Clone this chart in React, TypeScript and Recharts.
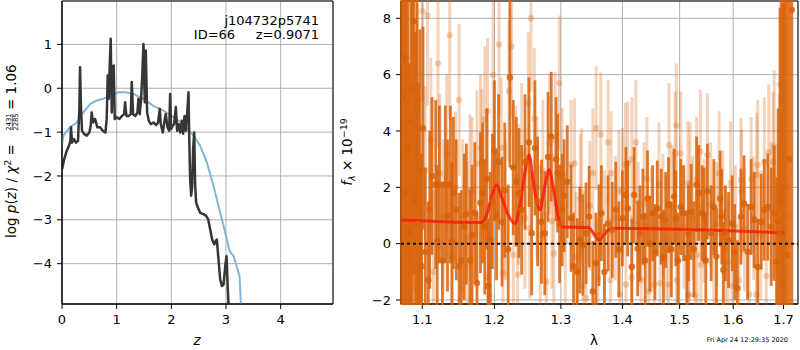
import {
  ComposedChart,
  Line,
  Scatter,
  ErrorBar,
  XAxis,
  YAxis,
  CartesianGrid,
  ReferenceLine,
  ReferenceArea,
} from "recharts";

// ---- left panel: log p(z) ----
const pzZ = [
  0.0, 0.04, 0.085, 0.128, 0.153, 0.165, 0.183, 0.22, 0.256, 0.293, 0.317, 0.33, 0.348, 0.366, 0.403,
  0.452, 0.501, 0.525, 0.543, 0.568, 0.604, 0.647, 0.696, 0.745, 0.794, 0.818, 0.836, 0.855, 0.873,
  0.891, 0.91, 0.928, 0.946, 0.965, 1.001, 1.05, 1.099, 1.136, 1.154, 1.178, 1.221, 1.258, 1.276, 1.3,
  1.343, 1.38, 1.398, 1.422, 1.447, 1.465, 1.49, 1.514, 1.532, 1.557, 1.587, 1.624, 1.673, 1.722, 1.758,
  1.789, 1.807, 1.844, 1.88, 1.899, 1.929, 1.96, 1.978, 1.996, 2.027, 2.051, 2.082, 2.106, 2.137, 2.161,
  2.192, 2.216, 2.241, 2.265, 2.289, 2.314, 2.326, 2.344, 2.363, 2.381, 2.399, 2.418, 2.436, 2.454,
  2.485, 2.527, 2.589, 2.637, 2.674, 2.711, 2.747, 2.784, 2.814, 2.833, 2.857, 2.894, 2.924, 2.955,
  2.985, 3.01, 3.028, 3.046,
];
const pzLog = [
  -1.85, -1.62, -1.43, -1.31, -1.2, -0.89, -1.24, -1.16, -1.24, -1.2, -0.47, 0.48, -0.47, -0.97, -1.04,
  -1.08, -1.01, -0.85, -0.55, -0.78, -0.7, -0.89, -0.89, -0.97, -1.01, -0.7, 0.29, -0.24, 0.52,
  1.13, -0.55, 0.37, 0.52, -0.7, -0.66, -0.7, -0.63, -0.59, -0.32, -0.63, -0.63, -0.59, 0.14, -0.59,
  -0.63, -0.55, -0.24, -0.59, -0.24, 0.21, 1.01, -0.32, 0.86, -0.55, -0.74, -0.82, -0.78, -0.84, -0.78,
  -0.47, -0.82, -1.01, -0.7, -0.59, -0.89, -0.97, -0.13, -0.93, -0.85, -0.82, -0.43, -0.97, -0.82, -1.01,
  -0.74, -1.04, -0.63, -0.97, -0.59, -0.09, -1.04, -2.07, -2.45, -2.23, -1.39, -1.01, -2.23, -2.61,
  -2.72, -2.84, -2.87, -2.91, -2.99, -3.22, -3.45, -3.56, -3.48, -3.45, -3.83, -4.36, -4.51, -4.47,
  -4.06, -3.83, -4.44, -4.93,
];
const priorZ = [
  0.0, 0.024, 0.067, 0.147, 0.269, 0.391, 0.513, 0.635, 0.757, 0.879, 1.032, 1.154, 1.306, 1.49, 1.673,
  1.856, 2.039, 2.222, 2.405, 2.527, 2.65, 2.772, 2.894, 2.985, 3.065, 3.138, 3.248, 3.272,
];
const priorLog = [
  -1.31, -1.08, -1.01, -0.89, -0.78, -0.55, -0.36, -0.28, -0.24, -0.17, -0.09, -0.09, -0.13, -0.24, -0.4,
  -0.51, -0.66, -0.82, -1.08, -1.31, -1.69, -2.23, -2.84, -3.29, -3.71, -3.83, -4.28, -4.93,
];
const zTicks = [0, 1, 2, 3, 4];
const pzTicks = [-4, -3, -2, -1, 0, 1];

// ---- right panel: spectrum (two exposures) ----
const darkLam = [
  1.073, 1.075, 1.077, 1.079, 1.081, 1.083, 1.085, 1.087, 1.089, 1.091, 1.093, 1.095, 1.097, 1.099,
  1.101, 1.104, 1.108, 1.11, 1.113, 1.118, 1.12, 1.123, 1.127, 1.131, 1.134, 1.138, 1.14, 1.142, 1.146,
  1.15, 1.153, 1.157, 1.16, 1.165, 1.168, 1.172, 1.175, 1.18, 1.183, 1.186, 1.189, 1.191, 1.194, 1.197,
  1.2, 1.203, 1.206, 1.211, 1.215, 1.22, 1.2225, 1.2275, 1.232, 1.236, 1.24, 1.245, 1.251, 1.255, 1.26,
  1.264, 1.27, 1.275, 1.28, 1.285, 1.2925, 1.295, 1.298,
  1.302, 1.305, 1.31, 1.316, 1.32, 1.326, 1.33, 1.335, 1.34, 1.345, 1.351, 1.356, 1.361, 1.365, 1.37,
  1.376, 1.383, 1.389, 1.394, 1.4, 1.406, 1.409, 1.416, 1.42, 1.426, 1.43, 1.435, 1.439, 1.443, 1.447,
  1.452, 1.456, 1.46, 1.467, 1.471, 1.475, 1.48, 1.485, 1.49, 1.493, 1.497, 1.502, 1.507, 1.513, 1.516,
  1.521, 1.526, 1.531, 1.535, 1.541, 1.545, 1.548, 1.551, 1.558, 1.563, 1.568, 1.575, 1.578, 1.581,
  1.585, 1.591, 1.598, 1.603, 1.608, 1.615, 1.621, 1.628, 1.635, 1.641, 1.648, 1.655, 1.661, 1.668,
  1.675, 1.681, 1.686, 1.689, 1.693, 1.696, 1.7, 1.703, 1.707, 1.712, 1.717,
];
const darkFlux = [
  6.5, 5.2, 1.8, 6.6, 3.4, 0.4, 4.3, 5.5, 7.9, 1.5, 4.85, 0.7, 2.6, -0.8,
  4.1, -0.3, -1.3, 1.2, 2.4, 2.1, 0.1, 2.1, -0.6, 2.1, 1.0, 2.1, 0.1, 1.8, 1.2,
  -0.8, -0.6, 0.6, 1.05, -0.6, 0.3, 1.1, -1.4, 1.45, 1.8, 0.6, 2.3, -1.5, 0.15, 1.5,
  3.3, 1.0, 2.9, 0.78, 1.9, -0.2, 5.9, 2.7, 2.2, 1.8, 1.2, 2.9, 3.6, 0.37, 3.4,
  1.5, 0.78, 0.37, 3.08, 3.8, 3.0, 2.5, 0.7,
  1.2, 1.7, 2.2, 0.9, -0.8, -1.0, 0.13, -0.05, 0.37, 0.96, -1.7, -0.7, 0.3, 1.08, -1.0,
  0.72, 0.49, 1.2, -0.2, 0.9, 1.73, 1.25, -0.82, 1.73, -0.17, 0.37, 0.96, -0.6, 1.6, 0.0,
  1.08, -0.3, 1.25, 0.96, -0.5, 0.84, 1.37, -0.2, 1.67, 0.9, -0.6, 1.3, 1.08, -0.52, 0.37,
  1.13, -0.2, 2.1, 1.8, 1.08, 1.0, -0.6, 1.85, 0.37, 1.3, -0.45, 1.6, 0.96, -0.93,
  0.37, 0.13, 0.72, -0.3, -1.58, 0.96, 1.43, -0.29, 1.3, 0.84, -0.82, 0.78, 1.2, 1.3,
  0.6, 1.08, -0.64, 0.8, 0.37, 1.5, -1.47, 2.0, -0.4, 3.0, 8.3,
];
const darkErr = [
  9, 8, 7, 9, 7, 6, 7, 8, 9, 6, 7, 5, 5, 4,
  3.6, 3, 2.8, 2.8, 2.8, 3, 2.7, 2.8, 2.8, 2.8, 2.7, 2.8, 2.8, 2.7, 2.5,
  2.6, 2.5, 2.6, 2.5, 2.5, 2.5, 2.5, 2.5, 2.5, 2.5, 2.4, 2.5, 2.4, 2.4, 2.4,
  2.5, 2.3, 2.4, 2.3, 2.4, 2.3, 3.2, 2.4, 2.3, 2.3, 2.3, 2.4, 2.3, 2.2, 2.4,
  2.3, 2.2, 2.2, 2.3, 2.3, 2.2, 2.1, 2.1,
  2.0, 2.0, 2.0, 1.9, 1.9, 1.9, 1.9, 1.8, 1.8, 1.8, 1.8, 1.8, 1.8, 1.7, 1.7,
  1.7, 1.7, 1.7, 1.7, 1.7, 1.7, 1.7, 1.7, 1.7, 1.7, 1.7, 1.7, 1.7, 1.7, 1.7,
  1.7, 1.7, 1.7, 1.7, 1.7, 1.7, 1.7, 1.7, 1.7, 1.7, 1.7, 1.7, 1.7, 1.7, 1.7,
  1.7, 1.7, 1.7, 1.7, 1.7, 1.7, 1.7, 1.7, 1.7, 1.7, 1.7, 1.7, 1.7, 1.7,
  1.7, 1.7, 1.7, 1.7, 1.7, 1.7, 1.7, 1.7, 1.7, 1.7, 1.7, 1.7, 1.8, 1.9,
  2.1, 2.4, 3, 4, 8, 9, 10, 10, 12, 12, 12,
];

const lightLam = [
  1.08, 1.083, 1.089, 1.092, 1.094, 1.097, 1.1005, 1.104, 1.107, 1.1115, 1.115, 1.121, 1.1235, 1.128, 1.133,
  1.137, 1.1405, 1.145, 1.15, 1.155, 1.161, 1.165, 1.168, 1.175, 1.18, 1.182, 1.186, 1.19, 1.191, 1.1925,
  1.198, 1.2065, 1.21, 1.2125, 1.216, 1.221, 1.225, 1.2275, 1.231, 1.234, 1.235, 1.24, 1.245, 1.25, 1.252,
  1.254, 1.259, 1.263, 1.268, 1.272, 1.2775, 1.2825, 1.286, 1.289, 1.291, 1.2975, 1.302, 1.307, 1.316,
  1.3216, 1.324, 1.331, 1.333, 1.335, 1.34, 1.346, 1.351, 1.3565, 1.3595, 1.364, 1.37, 1.376, 1.38, 1.381,
  1.388, 1.394, 1.396, 1.4, 1.405, 1.406, 1.409, 1.4155, 1.416, 1.423, 1.427, 1.432, 1.437, 1.442, 1.445,
  1.45, 1.455, 1.463, 1.465, 1.47, 1.476, 1.48, 1.481, 1.486, 1.492, 1.494, 1.4945, 1.502, 1.508, 1.515,
  1.5155, 1.517, 1.519, 1.524, 1.528, 1.531, 1.532, 1.538, 1.539, 1.545, 1.551, 1.557, 1.563, 1.568, 1.573,
  1.58, 1.585, 1.59, 1.595, 1.598, 1.604, 1.611, 1.615, 1.616, 1.622, 1.631, 1.635, 1.64, 1.645, 1.646,
  1.648, 1.654, 1.661, 1.665, 1.67, 1.675, 1.679, 1.681, 1.686, 1.691, 1.693, 1.698, 1.704,
];
const lightFlux = [
  3.1, -0.4, 1.67, 4.15, 5.1, -0.3, 8.25, 2.6, 8.1, 3.7, -1.0, 6.4, 2.5, 0.9, 3.2,
  7.4, -0.45, 2.0, 5.1, 1.0, 0.2, 1.9, 1.9, 2.85, 3.4, 2.9, 4.4, 4.7, -1.2, -1.84,
  6.0, 7.07, 3.4, -1.05, 1.2, 5.43, 7.0, -0.4, 2.4, -1.1, 1.75, 3.2, 0.9, 5.0, 0.55,
  8.0, 4.45, 2.0, 0.3, 2.6, -1.35, 3.55, 0.8, -0.35, 3.7, 5.7, 2.4, 0.1, 2.8,
  2.85, -0.47, 1.6, 1.8, -1.5, -1.95, 1.35, 2.5, 4.1, -1.25, 3.88, 0.4, 3.6, -1.3, 2.5,
  0.9, 1.85, -1.8, 1.9, 2.8, -1.45, 2.85, -1.2, 3.0, 3.6, 0.7, -1.3, 1.4, 2.3, -1.7,
  0.5, -1.45, 2.1, -1.4, 1.0, 0.2, -1.45, 3.5, 1.3, 3.2, 4.2, -1.3, 3.2, 0.6, 2.15,
  -1.85, -1.8, 2.1, 0.9, -1.85, 2.3, -0.4, 3.27, -0.75, 0.8, 3.15, 1.4, -0.2, 0.7, 2.5,
  1.1, -0.2, -0.64, 2.15, -1.5, 0.6, -1.3, 2.26, 1.85, 0.5, -1.8, 2.3, 0.9, -1.8, 2.45,
  2.8, 0.3, 2.9, -1.15, 3.25, 1.2, 2.9, 3.45, 0.4, 1.8, 5.65, 2.5, 1.0,
];
const lightErr = [
  3.4, 3.4, 3.4, 3.4, 3.4, 3, 3.2, 3, 3.2, 2.9, 2.9, 3, 2.8, 2.8, 2.8,
  3, 2.8, 2.7, 2.7, 2.7, 2.7, 2.7, 2.6, 2.6, 2.6, 2.6, 2.6, 2.6, 2.6, 2.6,
  2.6, 2.6, 2.5, 2.5, 2.5, 2.5, 2.5, 2.5, 2.5, 2.5, 2.5, 2.5, 2.5, 2.5, 2.5,
  2.6, 2.5, 2.5, 2.5, 2.5, 2.5, 2.5, 2.4, 2.4, 2.4, 2.4, 2.4, 2.4, 2.3,
  2.3, 2.3, 2.3, 2.3, 2.3, 2.3, 2.3, 2.3, 2.2, 2.2, 2.2, 2.2, 2.2, 2.2, 2.2,
  2.2, 2.2, 2.2, 2.2, 2.2, 2.2, 2.2, 2.2, 2.2, 2.2, 2.2, 2.2, 2.2, 2.2, 2.2,
  2.2, 2.2, 2.2, 2.2, 2.2, 2.2, 2.2, 2.2, 2.2, 2.2, 2.2, 2.2, 2.2, 2.2, 2.2,
  2.2, 2.2, 2.2, 2.2, 2.2, 2.2, 2.2, 2.2, 2.2, 2.2, 2.2, 2.2, 2.2, 2.2, 2.2,
  2.2, 2.2, 2.2, 2.2, 2.2, 2.2, 2.2, 2.2, 2.2, 2.2, 2.2, 2.2, 2.2, 2.2, 2.2,
  2.3, 2.3, 2.3, 2.3, 2.4, 2.4, 2.5, 2.7, 3.0, 3.5, 4.5, 6, 8,
];

const modelLam = [
  1.073, 1.1815, 1.1895, 1.1958, 1.203, 1.2102, 1.22, 1.2298, 1.2372, 1.2447, 1.2512, 1.2572, 1.2623,
  1.2674, 1.275, 1.2817, 1.2879, 1.2956, 1.3024, 1.3433, 1.3541, 1.3611, 1.3688, 1.3815, 1.5365, 1.702,
];
const modelFlux = [
  0.84, 0.75, 1.08, 1.67, 2.09, 1.67, 1.02, 0.72, 1.32, 2.5, 3.15, 2.26, 1.55,
  1.2, 2.03, 2.62, 2.03, 0.96, 0.6, 0.57, 0.31, 0.13, 0.31, 0.55, 0.49, 0.39,
];
const lamTicks = [1.1, 1.2, 1.3, 1.4, 1.5, 1.6, 1.7];
const fluxTicks = [-2, 0, 2, 4, 6, 8];

const Z_DOMAIN: [number, number] = [0, 4.957];
const PZ_DOMAIN: [number, number] = [-4.92, 1.99];
const LAM_DOMAIN: [number, number] = [1.0722, 1.7299];
const FLUX_DOMAIN: [number, number] = [-2.142, 8.614];

const pzData = pzZ.map((x, i) => ({ x, y: pzLog[i] }));
const priorData = priorZ.map((x, i) => ({ x, y: priorLog[i] }));
const darkData = darkLam.map((x, i) => ({ x, y: darkFlux[i], err: darkErr[i] }));
const lightData = lightLam.map((x, i) => ({ x, y: lightFlux[i], err: lightErr[i] }));
const modelData = modelLam.map((x, i) => ({ x, y: modelFlux[i] }));

const FONT = "DejaVu Sans";
const tickStyle = { fontSize: 13, fill: "#000", fontFamily: FONT };
const minus = (v: number) => String(v).replace("-", "\u2212");

const ORANGE_DARK = "rgba(216,98,8,0.85)";
const ORANGE_LIGHT = "rgba(216,98,8,0.28)";

const dot = (fill: string) => (p: any) =>
  <circle cx={p.cx} cy={p.cy} r={3.2} fill={fill} />;

function LeftPanel() {
  return (
    <ComposedChart
      width={340}
      height={350}
      margin={{ top: 1, right: 7, bottom: 16, left: 22 }}
    >
      <CartesianGrid stroke="#b0b0b0" strokeWidth={1} />
      <XAxis
        type="number"
        dataKey="x"
        domain={Z_DOMAIN}
        ticks={zTicks}
        allowDataOverflow
        height={30}
        tick={tickStyle}
        tickSize={5}
        tickMargin={6}
        tickLine={{ stroke: "#000" }}
        axisLine={{ stroke: "#000" }}
      />
      <YAxis
        type="number"
        dataKey="y"
        domain={PZ_DOMAIN}
        ticks={pzTicks}
        allowDataOverflow
        width={40}
        tick={tickStyle}
        tickSize={5}
        tickMargin={5}
        tickFormatter={minus}
        tickLine={{ stroke: "#000" }}
        axisLine={{ stroke: "#000" }}
      />
      <Line
        data={priorData}
        dataKey="y"
        type="linear"
        dot={false}
        stroke="#82b4da"
        strokeWidth={2}
        isAnimationActive={false}
      />
      <Line
        data={pzData}
        dataKey="y"
        type="linear"
        dot={false}
        stroke="#363636"
        strokeWidth={2.5}
        strokeLinejoin="round"
        isAnimationActive={false}
      />
      <ReferenceArea
        x1={Z_DOMAIN[0]}
        x2={Z_DOMAIN[1]}
        y1={PZ_DOMAIN[0]}
        y2={PZ_DOMAIN[1]}
        fill="none"
        stroke="#000"
        strokeWidth={1}
      />
    </ComposedChart>
  );
}

// The spectrum is drawn twice with the same layout: once for grid and axes,
// once (inside a div that clips to the plot area) for the series.
function RightPanel({ series }: { series: boolean }) {
  return (
    <ComposedChart
      width={460}
      height={350}
      margin={{ top: 1, right: 2, bottom: 16, left: 21 }}
    >
      {!series && <CartesianGrid stroke="#b0b0b0" strokeWidth={1} />}
      <XAxis
        type="number"
        dataKey="x"
        scale="log"
        domain={LAM_DOMAIN}
        ticks={lamTicks}
        allowDataOverflow
        height={30}
        tick={series ? false : tickStyle}
        tickSize={5}
        tickMargin={6}
        tickFormatter={(v: number) => v.toFixed(1)}
        tickLine={series ? false : { stroke: "#000" }}
        axisLine={series ? false : { stroke: "#000" }}
      />
      <YAxis
        type="number"
        dataKey="y"
        domain={FLUX_DOMAIN}
        ticks={fluxTicks}
        allowDataOverflow
        width={40}
        tick={series ? false : tickStyle}
        tickSize={5}
        tickMargin={5}
        tickFormatter={minus}
        tickLine={series ? false : { stroke: "#000" }}
        axisLine={series ? false : { stroke: "#000" }}
      />
      {series && (
        <Scatter data={lightData} dataKey="y" shape={dot(ORANGE_LIGHT)} isAnimationActive={false}>
          <ErrorBar dataKey="err" direction="y" width={0} stroke={ORANGE_LIGHT} strokeWidth={3} />
        </Scatter>
      )}
      {series && (
        <Scatter data={darkData} dataKey="y" shape={dot(ORANGE_DARK)} isAnimationActive={false}>
          <ErrorBar dataKey="err" direction="y" width={0} stroke={ORANGE_DARK} strokeWidth={2.8} />
        </Scatter>
      )}
      {series && (
        <Line
          data={modelData}
          dataKey="y"
          type="monotone"
          dot={false}
          stroke="rgba(255,20,10,0.8)"
          strokeWidth={3}
          isAnimationActive={false}
        />
      )}
      {series && <ReferenceLine y={0} stroke="#111" strokeWidth={2} strokeDasharray="3 3" />}
      {series && (
        <ReferenceArea
          x1={LAM_DOMAIN[0]}
          x2={LAM_DOMAIN[1]}
          y1={FLUX_DOMAIN[0]}
          y2={FLUX_DOMAIN[1]}
          fill="none"
          stroke="#000"
          strokeWidth={1}
        />
      )}
    </ComposedChart>
  );
}

export default function App() {
  return (
    <div
      style={{
        position: "absolute",
        left: 0,
        top: 0,
        width: 800,
        height: 350,
        background: "#fff",
        fontFamily: FONT,
      }}
    >
      <div style={{ position: "absolute", left: 0, top: 0 }}>
        <LeftPanel />
      </div>
      <div style={{ position: "absolute", left: 340, top: 0 }}>
        <RightPanel series={false} />
      </div>
      <div
        style={{
          position: "absolute",
          left: 400,
          top: 0,
          width: 399,
          height: 305,
          overflow: "hidden",
        }}
      >
        <div style={{ position: "absolute", left: -60, top: 0 }}>
          <RightPanel series={true} />
        </div>
      </div>
      <svg
        width={800}
        height={350}
        style={{ position: "absolute", left: 0, top: 0, pointerEvents: "none" }}
        fontFamily={FONT}
      >
        {/* left panel annotations */}
        <text x={319} y={24.5} fontSize={13} textAnchor="end">j104732p5741</text>
        <text x={319} y={38.5} fontSize={13} textAnchor="end" xmlSpace="preserve">
          ID=66     z=0.9071
        </text>
        <g transform="translate(16,238) rotate(-90)">
          <text x={0} y={0} fontSize={13.5}>
            log <tspan fontStyle="italic">p</tspan>(<tspan fontStyle="italic">z</tspan>) /{" "}
            <tspan fontStyle="italic">χ</tspan>
            <tspan dy={-5} fontSize={9.5}>2</tspan>
            <tspan dy={5}> =</tspan>
          </text>
          <text x={116} y={-4.6} fontSize={6.8} textAnchor="middle">2431</text>
          <line x1={108} x2={124} y1={-3.7} y2={-3.7} stroke="#000" strokeWidth={0.6} />
          <text x={116} y={1.6} fontSize={6.8} textAnchor="middle">2285</text>
          <text x={128} y={0} fontSize={13.5}>= 1.06</text>
        </g>
        <text x={197} y={345} fontSize={13.5} textAnchor="middle" fontStyle="italic">z</text>

        {/* right panel annotations */}
        <g transform="translate(352,152) rotate(-90)">
          <text x={0} y={0} fontSize={13.5} textAnchor="middle">
            <tspan fontStyle="italic">f</tspan>
            <tspan dy={3} fontSize={9.5} fontStyle="italic">λ</tspan>
            <tspan dy={-3}> × 10</tspan>
            <tspan dy={-5} fontSize={9.5}>−19</tspan>
          </text>
        </g>
        <text x={594} y={345} fontSize={13.5} textAnchor="middle">λ</text>
        <text x={788} y={342} fontSize={6.5} textAnchor="end">Fri Apr 24 12:29:35 2020</text>
      </svg>
    </div>
  );
}
